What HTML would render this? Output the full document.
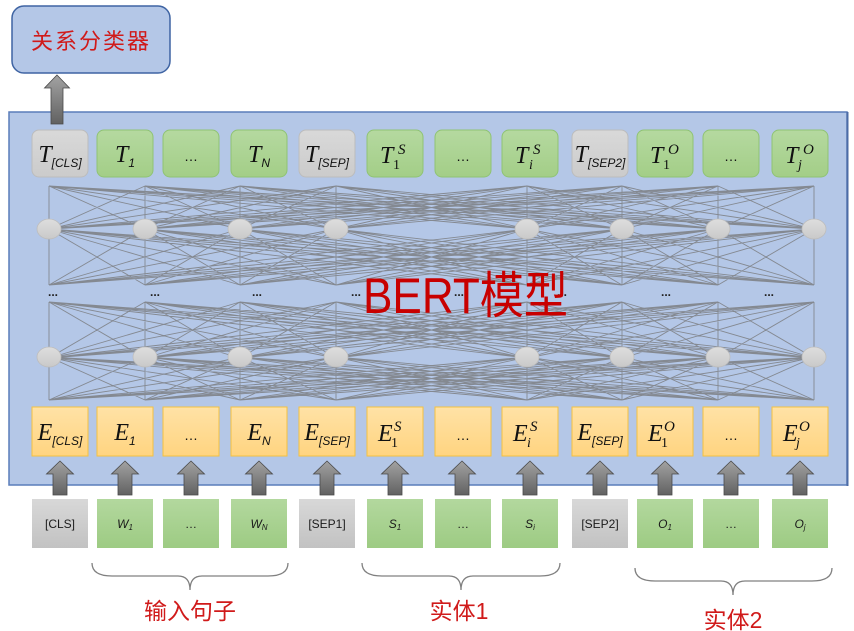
<!DOCTYPE html>
<html>
<head>
<meta charset="utf-8">
<style>
html,body{margin:0;padding:0;background:#fff;}
svg{display:block;}
.m{font-family:"Liberation Serif",serif;font-style:italic;font-size:24px;fill:#111;}
.s{font-family:"Liberation Sans",sans-serif;font-style:italic;font-size:12px;fill:#111;}
.sup{font-family:"Liberation Serif",serif;font-style:italic;font-size:15px;fill:#111;}
.sub{font-family:"Liberation Serif",serif;font-size:14px;fill:#111;}
.subi{font-family:"Liberation Serif",serif;font-style:italic;font-size:14px;fill:#111;}
.el{font-family:"Liberation Sans",sans-serif;font-size:14px;fill:#111;}
.in{font-family:"Liberation Sans",sans-serif;font-size:12px;fill:#1a1a1a;}
.ini{font-family:"Liberation Sans",sans-serif;font-style:italic;font-size:12px;fill:#1a1a1a;}
.ins{font-family:"Liberation Sans",sans-serif;font-style:italic;font-size:8px;fill:#1a1a1a;}
.dots{font-family:"Liberation Sans",sans-serif;font-weight:bold;font-size:12px;fill:#222;}
.cn{font-family:"Liberation Sans","Noto Sans CJK SC",sans-serif;fill:#d01a1a;}
</style>
</head>
<body>
<svg width="854" height="631" viewBox="0 0 854 631" xmlns="http://www.w3.org/2000/svg">
<defs>
  <linearGradient id="gG" x1="0" y1="0" x2="0" y2="1"><stop offset="0" stop-color="#b5d9a0"/><stop offset="1" stop-color="#a3ce87"/></linearGradient>
  <linearGradient id="gY" x1="0" y1="0" x2="0" y2="1"><stop offset="0" stop-color="#d9d9d9"/><stop offset="1" stop-color="#cbcbcb"/></linearGradient>
  <linearGradient id="gO" x1="0" y1="0" x2="0" y2="1"><stop offset="0" stop-color="#ffe2a6"/><stop offset="1" stop-color="#ffd480"/></linearGradient>
  <linearGradient id="gIG" x1="0" y1="0" x2="0" y2="1"><stop offset="0" stop-color="#b3d89e"/><stop offset="1" stop-color="#9dcb83"/></linearGradient>
  <linearGradient id="gIY" x1="0" y1="0" x2="0" y2="1"><stop offset="0" stop-color="#d8d8d8"/><stop offset="1" stop-color="#c2c2c2"/></linearGradient>
  <linearGradient id="gN" x1="0" y1="0" x2="0" y2="1"><stop offset="0" stop-color="#dedede"/><stop offset="1" stop-color="#c9c9c9"/></linearGradient>
  <linearGradient id="gA" x1="0" y1="0" x2="0" y2="1"><stop offset="0" stop-color="#a3a3a3"/><stop offset="1" stop-color="#616161"/></linearGradient>
  <path id="arr" d="M0 0L13.5 13L7 13L7 34L-7 34L-7 13L-13.5 13Z"/>
  <path id="LA" d="M49 186L49 229M49 186L145 229M49 186L240 229M49 186L336 229M49 186L527 229M49 186L622 229M49 186L718 229M49 186L814 229M145 186L49 229M145 186L145 229M145 186L240 229M145 186L336 229M145 186L527 229M145 186L622 229M145 186L718 229M145 186L814 229M240 186L49 229M240 186L145 229M240 186L240 229M240 186L336 229M240 186L527 229M240 186L622 229M240 186L718 229M240 186L814 229M336 186L49 229M336 186L145 229M336 186L240 229M336 186L336 229M336 186L527 229M336 186L622 229M336 186L718 229M336 186L814 229M527 186L49 229M527 186L145 229M527 186L240 229M527 186L336 229M527 186L527 229M527 186L622 229M527 186L718 229M527 186L814 229M622 186L49 229M622 186L145 229M622 186L240 229M622 186L336 229M622 186L527 229M622 186L622 229M622 186L718 229M622 186L814 229M718 186L49 229M718 186L145 229M718 186L240 229M718 186L336 229M718 186L527 229M718 186L622 229M718 186L718 229M718 186L814 229M814 186L49 229M814 186L145 229M814 186L240 229M814 186L336 229M814 186L527 229M814 186L622 229M814 186L718 229M814 186L814 229"/>
  <path id="LB" d="M49 229L49 285M49 229L145 285M49 229L240 285M49 229L336 285M49 229L527 285M49 229L622 285M49 229L718 285M49 229L814 285M145 229L49 285M145 229L145 285M145 229L240 285M145 229L336 285M145 229L527 285M145 229L622 285M145 229L718 285M145 229L814 285M240 229L49 285M240 229L145 285M240 229L240 285M240 229L336 285M240 229L527 285M240 229L622 285M240 229L718 285M240 229L814 285M336 229L49 285M336 229L145 285M336 229L240 285M336 229L336 285M336 229L527 285M336 229L622 285M336 229L718 285M336 229L814 285M527 229L49 285M527 229L145 285M527 229L240 285M527 229L336 285M527 229L527 285M527 229L622 285M527 229L718 285M527 229L814 285M622 229L49 285M622 229L145 285M622 229L240 285M622 229L336 285M622 229L527 285M622 229L622 285M622 229L718 285M622 229L814 285M718 229L49 285M718 229L145 285M718 229L240 285M718 229L336 285M718 229L527 285M718 229L622 285M718 229L718 285M718 229L814 285M814 229L49 285M814 229L145 285M814 229L240 285M814 229L336 285M814 229L527 285M814 229L622 285M814 229L718 285M814 229L814 285"/>
</defs>

<!-- classifier -->
<rect x="12" y="6" width="158" height="67" rx="12" ry="12" fill="#b4c7e7" stroke="#3f64a3" stroke-width="1.5"/>
<text x="91" y="49" text-anchor="middle" class="cn" font-size="22" letter-spacing="2">关系分类器</text>

<!-- BERT box -->
<rect x="9" y="112" width="838" height="373" fill="#b4c7e7" stroke="#5a7dba" stroke-width="1.5"/>
<line x1="847.5" y1="112" x2="847.5" y2="486" stroke="#4d6ca6" stroke-width="2"/>

<!-- network -->
<g fill="none" stroke="#747474" stroke-width="0.9" stroke-opacity="0.75">
  <use href="#LA"/>
  <use href="#LB"/>
  <use href="#LB" transform="translate(0,73)"/>
  <use href="#LA" transform="translate(0,171)"/>
</g>
<g fill="url(#gN)" stroke="#bdbdbd" stroke-width="0.8">
  <ellipse cx="49" cy="229" rx="12" ry="10"/><ellipse cx="145" cy="229" rx="12" ry="10"/><ellipse cx="240" cy="229" rx="12" ry="10"/><ellipse cx="336" cy="229" rx="12" ry="10"/>
  <ellipse cx="527" cy="229" rx="12" ry="10"/><ellipse cx="622" cy="229" rx="12" ry="10"/><ellipse cx="718" cy="229" rx="12" ry="10"/><ellipse cx="814" cy="229" rx="12" ry="10"/>
  <ellipse cx="49" cy="357" rx="12" ry="10"/><ellipse cx="145" cy="357" rx="12" ry="10"/><ellipse cx="240" cy="357" rx="12" ry="10"/><ellipse cx="336" cy="357" rx="12" ry="10"/>
  <ellipse cx="527" cy="357" rx="12" ry="10"/><ellipse cx="622" cy="357" rx="12" ry="10"/><ellipse cx="718" cy="357" rx="12" ry="10"/><ellipse cx="814" cy="357" rx="12" ry="10"/>
</g>
<g class="dots" text-anchor="middle">
  <text x="53" y="296">...</text><text x="155" y="296">...</text><text x="257" y="296">...</text><text x="356" y="296">...</text>
  <text x="459" y="296">...</text><text x="562" y="296">...</text><text x="666" y="296">...</text><text x="769" y="296">...</text>
</g>

<text x="363" y="313" class="cn" font-size="50" style="fill:#c80000" textLength="205" lengthAdjust="spacingAndGlyphs">BERT模型</text>

<!-- T row -->
<g stroke-width="1">
  <rect x="32" y="130" width="56" height="47" rx="7" fill="url(#gY)" stroke="#bcbcbc"/>
  <rect x="97" y="130" width="56" height="47" rx="7" fill="url(#gG)" stroke="#8fc373"/>
  <rect x="163" y="130" width="56" height="47" rx="7" fill="url(#gG)" stroke="#8fc373"/>
  <rect x="231" y="130" width="56" height="47" rx="7" fill="url(#gG)" stroke="#8fc373"/>
  <rect x="299" y="130" width="56" height="47" rx="7" fill="url(#gY)" stroke="#bcbcbc"/>
  <rect x="367" y="130" width="56" height="47" rx="7" fill="url(#gG)" stroke="#8fc373"/>
  <rect x="435" y="130" width="56" height="47" rx="7" fill="url(#gG)" stroke="#8fc373"/>
  <rect x="502" y="130" width="56" height="47" rx="7" fill="url(#gG)" stroke="#8fc373"/>
  <rect x="572" y="130" width="56" height="47" rx="7" fill="url(#gY)" stroke="#bcbcbc"/>
  <rect x="637" y="130" width="56" height="47" rx="7" fill="url(#gG)" stroke="#8fc373"/>
  <rect x="703" y="130" width="56" height="47" rx="7" fill="url(#gG)" stroke="#8fc373"/>
  <rect x="772" y="130" width="56" height="47" rx="7" fill="url(#gG)" stroke="#8fc373"/>
</g>
<text x="60" y="162" class="m" text-anchor="middle">T<tspan class="s" dy="5">[CLS]</tspan></text>
<text x="125" y="162" class="m" text-anchor="middle">T<tspan class="s" dy="5">1</tspan></text>
<text x="191" y="161" class="el" text-anchor="middle">…</text>
<text x="259" y="162" class="m" text-anchor="middle">T<tspan class="s" dy="5">N</tspan></text>
<text x="327" y="162" class="m" text-anchor="middle">T<tspan class="s" dy="5">[SEP]</tspan></text>
<text x="380" y="163" class="m">T</text><text x="398" y="154" class="sup">S</text><text x="393" y="169" class="sub">1</text>
<text x="463" y="161" class="el" text-anchor="middle">…</text>
<text x="515" y="163" class="m">T</text><text x="533" y="154" class="sup">S</text><text x="529" y="169" class="subi">i</text>
<text x="600" y="162" class="m" text-anchor="middle">T<tspan class="s" dy="5">[SEP2]</tspan></text>
<text x="650" y="163" class="m">T</text><text x="668" y="154" class="sup">O</text><text x="663" y="169" class="sub">1</text>
<text x="731" y="161" class="el" text-anchor="middle">…</text>
<text x="785" y="163" class="m">T</text><text x="803" y="154" class="sup">O</text><text x="798" y="169" class="subi">j</text>

<!-- E row -->
<g fill="url(#gO)" stroke="#f3c142" stroke-width="1">
  <rect x="32" y="407" width="56" height="49"/><rect x="97" y="407" width="56" height="49"/><rect x="163" y="407" width="56" height="49"/><rect x="231" y="407" width="56" height="49"/>
  <rect x="299" y="407" width="56" height="49"/><rect x="367" y="407" width="56" height="49"/><rect x="435" y="407" width="56" height="49"/><rect x="502" y="407" width="56" height="49"/>
  <rect x="572" y="407" width="56" height="49"/><rect x="637" y="407" width="56" height="49"/><rect x="703" y="407" width="56" height="49"/><rect x="772" y="407" width="56" height="49"/>
</g>
<text x="60" y="440" class="m" text-anchor="middle">E<tspan class="s" dy="5">[CLS]</tspan></text>
<text x="125" y="440" class="m" text-anchor="middle">E<tspan class="s" dy="5">1</tspan></text>
<text x="191" y="440" class="el" text-anchor="middle">…</text>
<text x="259" y="440" class="m" text-anchor="middle">E<tspan class="s" dy="5">N</tspan></text>
<text x="327" y="440" class="m" text-anchor="middle">E<tspan class="s" dy="5">[SEP]</tspan></text>
<text x="378" y="441" class="m">E</text><text x="394" y="431" class="sup">S</text><text x="391" y="447" class="sub">1</text>
<text x="463" y="440" class="el" text-anchor="middle">…</text>
<text x="513" y="441" class="m">E</text><text x="530" y="431" class="sup">S</text><text x="527" y="447" class="subi">i</text>
<text x="600" y="440" class="m" text-anchor="middle">E<tspan class="s" dy="5">[SEP]</tspan></text>
<text x="648" y="441" class="m">E</text><text x="664" y="431" class="sup">O</text><text x="661" y="447" class="sub">1</text>
<text x="731" y="440" class="el" text-anchor="middle">…</text>
<text x="783" y="441" class="m">E</text><text x="799" y="431" class="sup">O</text><text x="796" y="447" class="subi">j</text>

<!-- arrows -->
<path d="M57 75L69.5 88L63 88L63 124L51 124L51 88L44.5 88Z" fill="url(#gA)" stroke="#4a4a4a" stroke-width="0.8"/>
<g fill="url(#gA)" stroke="#4a4a4a" stroke-width="0.8">
  <use href="#arr" x="60" y="461"/><use href="#arr" x="125" y="461"/><use href="#arr" x="191" y="461"/><use href="#arr" x="259" y="461"/>
  <use href="#arr" x="327" y="461"/><use href="#arr" x="395" y="461"/><use href="#arr" x="462" y="461"/><use href="#arr" x="530" y="461"/>
  <use href="#arr" x="600" y="461"/><use href="#arr" x="665" y="461"/><use href="#arr" x="731" y="461"/><use href="#arr" x="800" y="461"/>
</g>

<!-- input row -->
<g>
  <rect x="32" y="499" width="56" height="49" fill="url(#gIY)"/>
  <rect x="97" y="499" width="56" height="49" fill="url(#gIG)"/>
  <rect x="163" y="499" width="56" height="49" fill="url(#gIG)"/>
  <rect x="231" y="499" width="56" height="49" fill="url(#gIG)"/>
  <rect x="299" y="499" width="56" height="49" fill="url(#gIY)"/>
  <rect x="367" y="499" width="56" height="49" fill="url(#gIG)"/>
  <rect x="435" y="499" width="56" height="49" fill="url(#gIG)"/>
  <rect x="502" y="499" width="56" height="49" fill="url(#gIG)"/>
  <rect x="572" y="499" width="56" height="49" fill="url(#gIY)"/>
  <rect x="637" y="499" width="56" height="49" fill="url(#gIG)"/>
  <rect x="703" y="499" width="56" height="49" fill="url(#gIG)"/>
  <rect x="772" y="499" width="56" height="49" fill="url(#gIG)"/>
</g>
<g text-anchor="middle">
  <text x="60" y="528" class="in">[CLS]</text>
  <text x="125" y="528" class="ini">W<tspan class="ins" dy="2">1</tspan></text>
  <text x="191" y="528" class="in">…</text>
  <text x="259" y="528" class="ini">W<tspan class="ins" dy="2">N</tspan></text>
  <text x="327" y="528" class="in">[SEP1]</text>
  <text x="395" y="528" class="ini">S<tspan class="ins" dy="2">1</tspan></text>
  <text x="463" y="528" class="in">…</text>
  <text x="530" y="528" class="ini">S<tspan class="ins" dy="2">i</tspan></text>
  <text x="600" y="528" class="in">[SEP2]</text>
  <text x="665" y="528" class="ini">O<tspan class="ins" dy="2">1</tspan></text>
  <text x="731" y="528" class="in">…</text>
  <text x="800" y="528" class="ini">O<tspan class="ins" dy="2">j</tspan></text>
</g>

<!-- braces -->
<g fill="none" stroke="#808080" stroke-width="1.3">
  <path d="M92 563Q92 576 112 576L178 576Q190 576 190 590Q190 576 202 576L268 576Q288 576 288 563"/>
  <path d="M362 563Q362 576 382 576L449 576Q461 576 461 590Q461 576 473 576L540 576Q560 576 560 563"/>
  <path d="M635 568Q635 581 655 581L721 581Q733 581 733 595Q733 581 745 581L812 581Q832 581 832 568"/>
</g>
<text x="190" y="619" text-anchor="middle" class="cn" font-size="23">输入句子</text>
<text x="459" y="619" text-anchor="middle" class="cn" font-size="23">实体1</text>
<text x="733" y="628" text-anchor="middle" class="cn" font-size="23">实体2</text>
</svg>
</body>
</html>
